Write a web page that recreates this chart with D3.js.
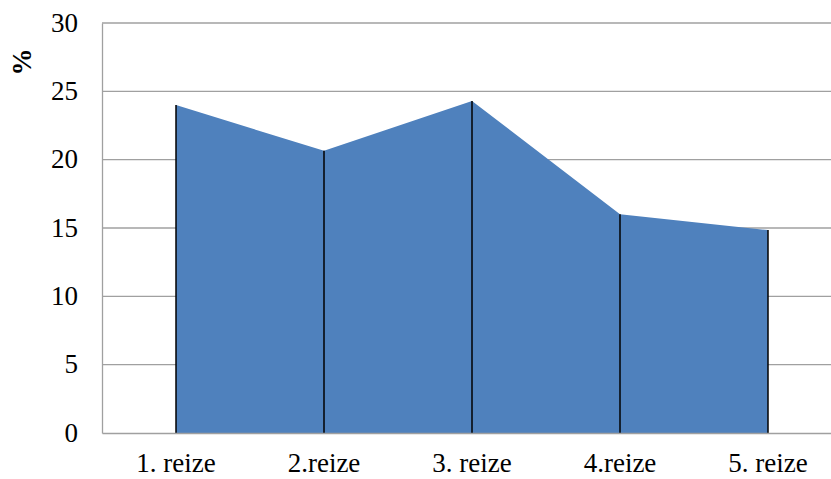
<!DOCTYPE html>
<html>
<head>
<meta charset="utf-8">
<script src="https://cdn.jsdelivr.net/npm/d3@7"></script>
<style>
  body { margin: 0; background: #fff; }
  svg text { font-family: "Liberation Serif", serif; }
</style>
</head>
<body>
<div class="chart"></div>
<script>
const categories = ["1. reize", "2.reize", "3. reize", "4.reize", "5. reize"];
const values = [24.0, 20.65, 24.3, 16.0, 14.85];
const yTicks = [0, 5, 10, 15, 20, 25, 30];

const W = 831, H = 479;
const margin = { top: 23, right: -11, bottom: 46, left: 102 };
const serif = "Liberation Serif";

const svg = d3.select(".chart")
    .append("svg")
    .attr("width", W)
    .attr("height", H);

const x = d3.scaleBand()
    .domain(categories)
    .range([margin.left, W - margin.right]);

const y = d3.scaleLinear()
    .domain([0, 30])
    .range([H - margin.bottom, margin.top]);

const cx = (d) => x(d) + x.bandwidth() / 2;

// gridlines
svg.append("g")
    .selectAll("line")
    .data(yTicks.filter((t) => t > 0))
    .enter()
    .append("line")
    .attr("x1", margin.left)
    .attr("x2", W)
    .attr("y1", (d) => y(d))
    .attr("y2", (d) => y(d))
    .attr("stroke", "#a0a0a0")
    .attr("stroke-width", 1.3);

// area
const area = d3.area()
    .x((d, i) => cx(categories[i]))
    .y0(y(0))
    .y1((d) => y(d));

svg.append("path")
    .datum(values)
    .attr("d", area)
    .attr("fill", "#4f81bd");

// drop lines
svg.append("g")
    .selectAll("line")
    .data(values)
    .enter()
    .append("line")
    .attr("x1", (d, i) => cx(categories[i]))
    .attr("x2", (d, i) => cx(categories[i]))
    .attr("y1", (d) => y(d))
    .attr("y2", y(0))
    .attr("stroke", "#000")
    .attr("stroke-width", 1.5);

// axes
const yAxis = d3.axisLeft(y).tickValues(yTicks).tickSize(0).tickPadding(24);
const gy = svg.append("g")
    .attr("transform", "translate(" + margin.left + ",0)")
    .call(yAxis);
gy.select(".domain").attr("stroke", "#a0a0a0").attr("stroke-width", 1.3);
gy.selectAll("text")
    .attr("fill", "#000")
    .attr("dy", "0.3em")
    .attr("font-family", serif)
    .attr("font-size", 27);

const xAxis = d3.axisBottom(x).tickSize(0).tickPadding(20);
const gx = svg.append("g")
    .attr("transform", "translate(0," + y(0) + ")")
    .call(xAxis);
gx.select(".domain").attr("stroke", "#a0a0a0").attr("stroke-width", 1.3);
gx.selectAll("text")
    .attr("fill", "#000")
    .attr("font-family", serif)
    .attr("font-size", 27);

svg.append("text")
    .attr("transform", "translate(31,62) rotate(-90)")
    .attr("text-anchor", "middle")
    .attr("font-family", serif)
    .attr("font-size", 27)
    .attr("font-weight", "bold")
    .text("%");
</script>
</body>
</html>
